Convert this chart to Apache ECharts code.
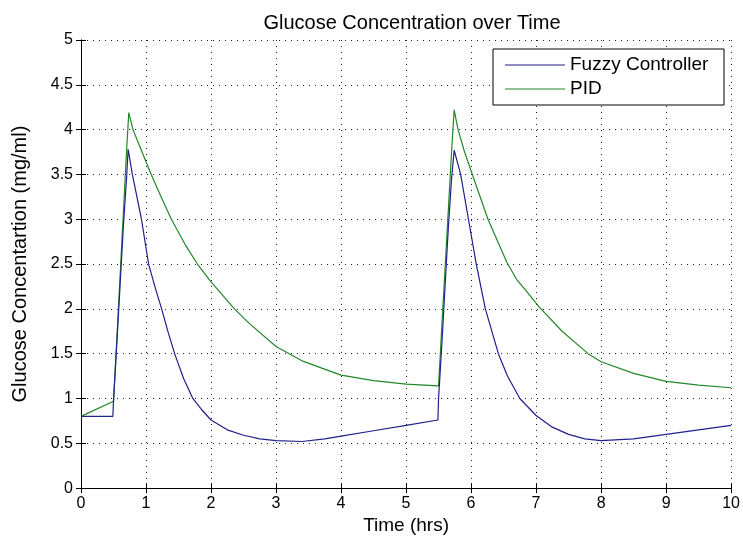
<!DOCTYPE html>
<html>
<head>
<meta charset="utf-8">
<script src="https://cdn.jsdelivr.net/npm/echarts@6/dist/echarts.min.js"></script>
<style>
  html, body { margin: 0; padding: 0; background: #fff; }
  #chart { width: 743px; height: 540px; }
</style>
</head>
<body>
<div id="chart"></div>
<script>
// Time axis (hours) and glucose readings (mg/ml) for each controller
var fuzzyTime = [0, 0.49, 0.50, 0.55, 0.60, 0.65, 0.70, 0.725, 0.79, 0.93, 1.04, 1.14, 1.24, 1.34, 1.44, 1.58, 1.72, 1.85, 2.0, 2.25, 2.5, 2.75, 3.0, 3.4, 3.75, 4.0, 4.5, 5.0, 5.49, 5.50, 5.55, 5.60, 5.65, 5.70, 5.74, 5.84, 5.96, 6.08, 6.22, 6.42, 6.56, 6.75, 7.0, 7.25, 7.5, 7.75, 8.0, 8.5, 9.0, 9.5, 10];
var fuzzyGlucose = [0.8, 0.8, 0.97, 1.6, 2.25, 2.9, 3.45, 3.78, 3.5, 3.0, 2.5, 2.24, 2.0, 1.74, 1.5, 1.22, 1.0, 0.88, 0.76, 0.65, 0.59, 0.55, 0.53, 0.52, 0.55, 0.58, 0.64, 0.70, 0.76, 1.0, 1.6, 2.25, 2.9, 3.45, 3.77, 3.5, 3.0, 2.5, 2.0, 1.5, 1.25, 1.0, 0.81, 0.68, 0.60, 0.55, 0.53, 0.55, 0.60, 0.65, 0.70];

var pidTime = [0, 0.5, 0.55, 0.6, 0.65, 0.7, 0.735, 0.8, 0.9, 1.08, 1.2, 1.39, 1.6, 1.79, 2.0, 2.36, 2.6, 3.0, 3.4, 4.0, 4.5, 5.0, 5.5, 5.55, 5.6, 5.65, 5.7, 5.74, 5.8, 5.9, 6.02, 6.26, 6.55, 6.7, 6.87, 7.05, 7.4, 7.8, 8.0, 8.5, 9.0, 9.5, 10];
var pidGlucose = [0.8, 0.97, 1.65, 2.35, 3.05, 3.75, 4.19, 4.0, 3.82, 3.5, 3.3, 3.0, 2.72, 2.5, 2.3, 2.0, 1.83, 1.58, 1.42, 1.26, 1.2, 1.16, 1.14, 1.8, 2.45, 3.1, 3.75, 4.22, 4.0, 3.75, 3.5, 3.0, 2.52, 2.33, 2.18, 2.02, 1.75, 1.5, 1.41, 1.28, 1.19, 1.15, 1.12];

var seriesNames = ['Fuzzy Controller', 'PID'];
var seriesColors = ['#20208c', '#22882a'];

function pairs(xs, ys) {
  return xs.map(function (x, i) { return [x, ys[i]]; });
}

var FONT = "'Liberation Sans', Arial, sans-serif";
var gridLine = { show: true, lineStyle: { color: '#222', width: 1, type: [1, 5] } };
var axisLine = { show: true, lineStyle: { color: '#000', width: 1 } };
var tick = { show: true, inside: true, length: 5, lineStyle: { color: '#000' } };

var chart = echarts.init(document.getElementById('chart'), null, { renderer: 'canvas' });
chart.setOption({
  animation: false,
  backgroundColor: '#fff',
  title: {
    text: 'Glucose Concentration over Time',
    left: 407, top: 8, textAlign: 'center',
    textStyle: { fontFamily: FONT, fontSize: 20, fontWeight: 'normal', color: '#000' }
  },
  legend: {
    data: seriesNames.map(function (n) { return { name: n, icon: 'rect' }; }),
    orient: 'vertical',
    left: 493, top: 49,
    padding: [6, 10, 6, 12],
    itemGap: 4,
    itemWidth: 60, itemHeight: 1,
    backgroundColor: '#fff',
    borderColor: '#000', borderWidth: 1,
    textStyle: { fontFamily: FONT, fontSize: 19, lineHeight: 20, color: '#000', width: 144 }
  },
  grid: { left: 81, right: 9, top: 40, bottom: 50, containLabel: false },
  xAxis: [{
    type: 'value', min: 0, max: 10, interval: 1,
    name: 'Time (hrs)', nameLocation: 'middle', nameGap: 25,
    nameTextStyle: { fontFamily: FONT, fontSize: 19, color: '#000' },
    axisLine: axisLine, axisTick: tick, splitLine: gridLine,
    axisLabel: { margin: 7, fontFamily: FONT, fontSize: 16, color: '#000' }
  }, {
    type: 'value', min: 0, max: 10, interval: 1, position: 'top',
    axisLine: axisLine, axisTick: tick, splitLine: { show: false }, axisLabel: { show: false }
  }],
  yAxis: [{
    type: 'value', min: 0, max: 5, interval: 0.5,
    name: 'Glucose Concentartion (mg/ml)', nameLocation: 'middle', nameGap: 51,
    nameTextStyle: { fontFamily: FONT, fontSize: 20, color: '#000' },
    axisLine: axisLine, axisTick: tick, splitLine: gridLine,
    axisLabel: { margin: 8, fontFamily: FONT, fontSize: 16, color: '#000' }
  }, {
    type: 'value', min: 0, max: 5, interval: 0.5, position: 'right',
    axisLine: axisLine, axisTick: tick, splitLine: { show: false }, axisLabel: { show: false }
  }],
  series: [{
    name: seriesNames[0], type: 'line', data: pairs(fuzzyTime, fuzzyGlucose),
    showSymbol: false, smooth: false, color: seriesColors[0],
    lineStyle: { width: 1.2, color: seriesColors[0] }, z: 3
  }, {
    name: seriesNames[1], type: 'line', data: pairs(pidTime, pidGlucose),
    showSymbol: false, smooth: false, color: seriesColors[1],
    lineStyle: { width: 1.2, color: seriesColors[1] }, z: 2
  }]
});
</script>
</body>
</html>
